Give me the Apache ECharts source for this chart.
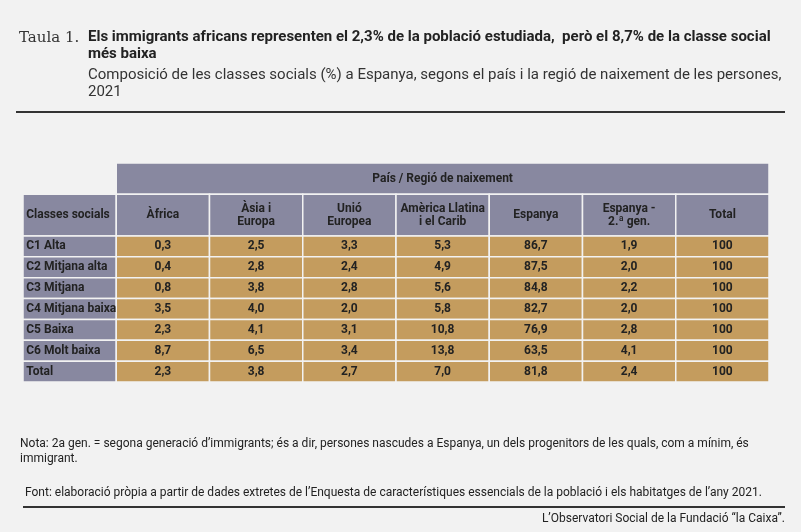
<!DOCTYPE html>
<html><head><meta charset="utf-8">
<script src="https://cdn.jsdelivr.net/npm/echarts@6/dist/echarts.min.js"></script>
<style>html,body{margin:0;background:#f2f2f2}#c{width:801px;height:532px}</style>
</head><body><div id="c"></div>
<script>
// dades de la taula
var columns = ["Classes socials", "Àfrica", "Àsia i\nEuropa", "Unió\nEuropea", "Amèrica Llatina\ni el Carib", "Espanya", "Espanya -\n2.ª gen.", "Total"];
var rowNames = ["C1 Alta", "C2 Mitjana alta", "C3 Mitjana", "C4 Mitjana baixa", "C5 Baixa", "C6 Molt baixa", "Total"];
var africa = ["0,3", "0,4", "0,8", "3,5", "2,3", "8,7", "2,3"];
var asia = ["2,5", "2,8", "3,8", "4,0", "4,1", "6,5", "3,8"];
var ue = ["3,3", "2,4", "2,8", "2,0", "3,1", "3,4", "2,7"];
var america = ["5,3", "4,9", "5,6", "5,8", "10,8", "13,8", "7,0"];
var espanya = ["86,7", "87,5", "84,8", "82,7", "76,9", "63,5", "81,8"];
var espanya2 = ["1,9", "2,0", "2,2", "2,0", "2,8", "4,1", "2,4"];
var total = ["100", "100", "100", "100", "100", "100", "100"];
var bandLabel = "País / Regió de naixement";

var purple = "#8888a0", tan = "#c49c5e";
var valueCols = [africa, asia, ue, america, espanya, espanya2, total];
// cel·les: [col, fila, text, tipus]
var cells = [];
cells.push([1, -2, bandLabel, "band"]);
columns.forEach(function (c, i) { cells.push([i, -1, c, "head"]); });
rowNames.forEach(function (r, j) {
    cells.push([0, j, r, "rowname"]);
    valueCols.forEach(function (col, i) { cells.push([i + 1, j, col[j], "val"]); });
});
// y en unitats: banda 0-1.5, capçalera 1.5-3.5, files 3.5+
function yTop(r) { return r == -2 ? 0 : r == -1 ? 1.5 : 3.5 + r; }
function yBot(r) { return r == -2 ? 1.5 : r == -1 ? 3.5 : 4.5 + r; }

var chart = echarts.init(document.getElementById("c"));
chart.setOption({
    backgroundColor: "#f2f2f2",
    animation: false,
    grid: {left: 23, right: 32, top: 163, bottom: 150},
    xAxis: {type: "value", min: 0, max: 8, show: false},
    yAxis: {type: "value", min: 0, max: 10.5, inverse: true, show: false},
    series: [{
        type: "custom",
        data: cells,
        renderItem: function (params, api) {
            var c = api.value(0), r = api.value(1), kind = cells[params.dataIndex][3];
            var x1 = kind == "band" ? 8 : c + 1;
            var p0 = api.coord([c, yTop(r)]), p1 = api.coord([x1, yBot(r)]);
            var left = kind == "rowname" || (kind == "head" && c == 0);
            var txt = cells[params.dataIndex][2];
            return {
                type: "rect",
                shape: {x: p0[0], y: p0[1], width: p1[0] - p0[0], height: p1[1] - p0[1]},
                style: {fill: kind == "val" ? tan : purple, stroke: "#f2f2f2", lineWidth: 1.5},
                textContent: {style: {text: txt, fill: "#222", fontFamily: "Roboto", fontWeight: "bold",
                    fontSize: 12, align: left ? "left" : "center", lineHeight: 13}},
                textConfig: {position: left ? "insideLeft" : "inside", distance: 4}
            };
        }
    }],
    graphic: [
        {type: "text", left: 19, top: 31, style: {text: "Taula 1.", font: "15px 'DejaVu Serif'", fill: "#333"}},
        {type: "text", left: 88, top: 29, style: {text: "Els immigrants africans representen el 2,3% de la població estudiada,  però el 8,7% de la classe social\nmés baixa", font: "bold 15px Roboto", fill: "#222", lineHeight: 17}},
        {type: "text", left: 88, top: 67, style: {text: "Composició de les classes socials (%) a Espanya, segons el país i la regió de naixement de les persones,\n2021", font: "15px Roboto", fill: "#333", lineHeight: 17}},
        {type: "rect", shape: {x: 16, y: 111, width: 769, height: 2}, style: {fill: "#333"}},
        {type: "text", left: 20, top: 436, style: {text: "Nota: 2a gen. = segona generació d’immigrants; és a dir, persones nascudes a Espanya, un dels progenitors de les quals, com a mínim, és\nimmigrant.", font: "12px Roboto", fill: "#222", lineHeight: 15}},
        {type: "text", left: 25, top: 487, style: {text: "Font: elaboració pròpia a partir de dades extretes de l’Enquesta de característiques essencials de la població i els habitatges de l’any 2021.", font: "12px Roboto", fill: "#222"}},
        {type: "rect", shape: {x: 23, y: 506, width: 762, height: 2}, style: {fill: "#333"}},
        {type: "text", right: 16, top: 513, style: {text: "L’Observatori Social de la Fundació “la Caixa”.", font: "12px Roboto", fill: "#222"}}
    ]
});
</script></body></html>
